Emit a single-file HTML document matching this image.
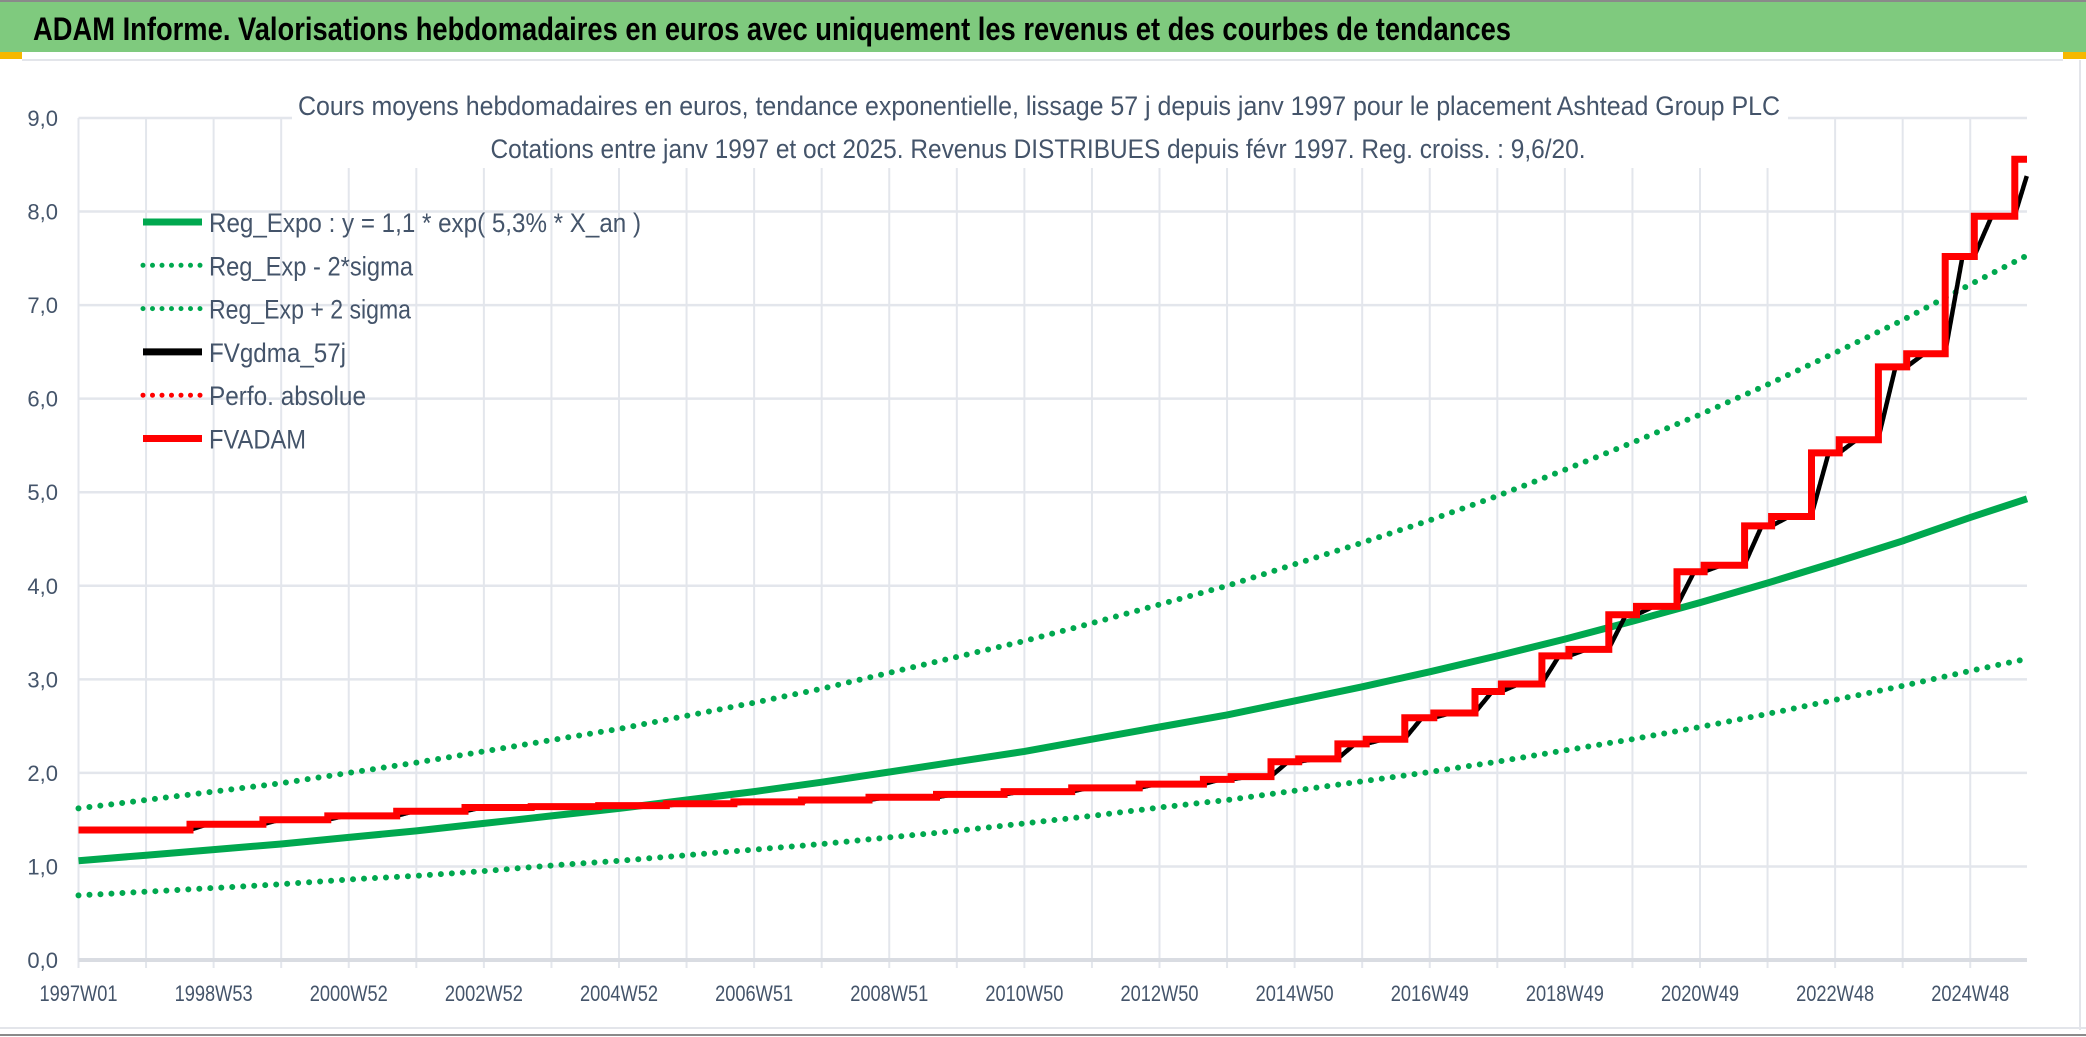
<!DOCTYPE html>
<html>
<head>
<meta charset="utf-8">
<style>
  html,body{margin:0;padding:0;background:#fff;}
  body{width:2086px;height:1037px;overflow:hidden;font-family:"Liberation Sans",sans-serif;}
  svg{display:block;}
</style>
</head>
<body>
<svg id="chart" width="2086" height="1037" viewBox="0 0 2086 1037" xmlns="http://www.w3.org/2000/svg">
  <rect x="0" y="0" width="2086" height="1037" fill="#ffffff"/>
  <rect x="0" y="0" width="2086" height="52" fill="#7fca7e"/>
  <line x1="0" y1="1" x2="2086" y2="1" stroke="#8a8a8a" stroke-width="2"/>
  <text x="33" y="40" font-size="32" font-weight="bold" fill="#000" textLength="1478" lengthAdjust="spacingAndGlyphs">ADAM Informe. Valorisations hebdomadaires en euros avec uniquement les revenus et des courbes de tendances</text>
  <rect x="0" y="52" width="22" height="7" fill="#f5b800"/>
  <rect x="2063" y="52" width="23" height="7" fill="#f5b800"/>
  <line x1="22" y1="60" x2="2063" y2="60" stroke="#e3e5ea" stroke-width="2"/>
  <line x1="2080" y1="60" x2="2080" y2="1030" stroke="#e3e5ea" stroke-width="2"/>
  <line x1="0" y1="1028" x2="2086" y2="1028" stroke="#e3e5ea" stroke-width="2"/>
  <line x1="0" y1="1035" x2="2086" y2="1035" stroke="#8a8a8a" stroke-width="2"/>
  <g id="grid"></g>
  <g id="axes"></g>
  <rect x="292" y="88" width="1496" height="80" fill="#ffffff"/>
  <text x="1039" y="115" font-size="27" fill="#44546a" text-anchor="middle" textLength="1482" lengthAdjust="spacingAndGlyphs">Cours moyens hebdomadaires en euros, tendance exponentielle, lissage 57 j depuis janv 1997 pour le placement Ashtead Group PLC</text>
  <text x="1038" y="158" font-size="27" fill="#44546a" text-anchor="middle" textLength="1095" lengthAdjust="spacingAndGlyphs">Cotations entre janv 1997 et oct 2025. Revenus DISTRIBUES depuis févr 1997. Reg. croiss. : 9,6/20.</text>
  <g id="series"></g>
  <g id="legend"></g>
</svg>
<script>
// ---- data (years since 1997W01) ----
const regYears = [0,1,2,3,4,5,6,7,8,9,10,11,12,13,14,15,16,17,18,19,20,21,22,23,24,25,26,27,28,28.84];
const regValues = [1.06,1.12,1.18,1.24,1.31,1.38,1.46,1.54,1.62,1.71,1.80,1.90,2.01,2.12,2.23,2.36,2.49,2.62,2.77,2.92,3.08,3.25,3.43,3.62,3.82,4.03,4.25,4.48,4.73,4.93];
const lowerValues = [0.69,0.73,0.77,0.81,0.86,0.90,0.95,1.01,1.06,1.12,1.18,1.24,1.31,1.38,1.46,1.54,1.63,1.71,1.81,1.91,2.01,2.12,2.24,2.36,2.49,2.63,2.78,2.93,3.09,3.22];
const upperValues = [1.62,1.71,1.80,1.89,2.00,2.11,2.23,2.35,2.47,2.61,2.75,2.90,3.07,3.24,3.41,3.60,3.80,4.00,4.23,4.46,4.70,4.96,5.24,5.53,5.83,6.15,6.49,6.84,7.22,7.53];
const adamStart = 1.39;
const stepYears = [1.65,2.73,3.69,4.71,5.72,6.7,7.7,8.7,9.7,10.7,11.7,12.7,13.7,14.7,15.7,16.65,17.06,17.65,18.06,18.64,19.06,19.63,20.06,20.67,21.06,21.66,22.06,22.65,23.06,23.66,24.06,24.66,25.06,25.65,26.06,26.64,27.06,27.63,28.06,28.66];
const stepValues = [1.45,1.50,1.54,1.59,1.63,1.64,1.65,1.67,1.69,1.71,1.74,1.77,1.80,1.84,1.88,1.93,1.96,2.12,2.15,2.31,2.36,2.59,2.64,2.87,2.95,3.25,3.32,3.69,3.78,4.15,4.22,4.64,4.74,5.42,5.56,6.34,6.48,7.52,7.95,8.56];
const endYear = 28.84;
const yTicks = [0,1,2,3,4,5,6,7,8,9];
const yTickLabels = ["0,0","1,0","2,0","3,0","4,0","5,0","6,0","7,0","8,0","9,0"];
const xLabelYears = [0,2,4,6,8,10,12,14,16,18,20,22,24,26,28];
const xLabels = ["1997W01","1998W53","2000W52","2002W52","2004W52","2006W51","2008W51","2010W50","2012W50","2014W50","2016W49","2018W49","2020W49","2022W48","2024W48"];

// ---- scales ----
const X0 = 78.5, X1 = 2027, Y0 = 960, Y9 = 118;
function sx(t){ return X0 + t/endYear*(X1-X0); }
function sy(v){ return Y0 - v/9*(Y0-Y9); }
const NS = "http://www.w3.org/2000/svg";
function mk(tag, attrs, parent){ const e=document.createElementNS(NS,tag); for(const k in attrs) e.setAttribute(k,attrs[k]); parent.appendChild(e); return e; }

const grid = document.getElementById('grid');
for (let k=0;k<=28;k++){
  const l = mk('line',{x1:sx(k),y1:Y9,x2:sx(k),y2:Y0+8,stroke:'#e3e6ec','stroke-width':2},grid);
  
  
}
yTicks.forEach((v,i)=>{
  const l = mk('line',{x1:X0,y1:sy(v),x2:X1,y2:sy(v),stroke: v===0?'#d9dce2':'#e3e6ec','stroke-width': v===0?4:2.5},grid);
  
  
});
const axes = document.getElementById('axes');
yTicks.forEach((v,i)=>{
  const t = mk('text',{x:58,y:sy(v)+8,'font-size':22,fill:'#44546a','text-anchor':'end'},axes);
  t.textContent = yTickLabels[i];
  
  
});
xLabelYears.forEach((yr,i)=>{
  const t = mk('text',{x:sx(yr),y:1001,'font-size':22,fill:'#44546a','text-anchor':'middle',textLength:78,lengthAdjust:'spacingAndGlyphs'},axes);
  t.textContent = xLabels[i];
  
  
});

// ---- series ----
const series = document.getElementById('series');
function poly(xs, ys){ return xs.map((t,i)=>(i?'L':'M')+sx(t).toFixed(1)+' '+sy(ys[i]).toFixed(1)).join(' '); }
const pLow = mk('path',{d:poly(regYears,lowerValues),fill:'none',stroke:'#00a84f','stroke-width':6,'stroke-linecap':'round','stroke-dasharray':'0 11'},series);


const pUp = mk('path',{d:poly(regYears,upperValues),fill:'none',stroke:'#00a84f','stroke-width':6,'stroke-linecap':'round','stroke-dasharray':'0 11'},series);


const pReg = mk('path',{d:poly(regYears,regValues),fill:'none',stroke:'#00a84f','stroke-width':7,'stroke-linejoin':'round'},series);



function stepVal(t){ let v=adamStart; for(let i=0;i<stepYears.length;i++){ if(t>=stepYears[i]) v=stepValues[i]; } return v; }
// smoothed (trailing moving average) curve
const win = 0.25, dt = 1/104;
const bx=[], by=[];
for(let t=0;t<=endYear+1e-9;t+=dt){
  let s=0,n=0;
  for(let u=t-win;u<=t+1e-9;u+=dt){ s+=stepVal(Math.max(0,u)); n++; }
  bx.push(t); by.push(s/n);
}
let dRed = 'M'+sx(0)+' '+sy(adamStart);
let cur = adamStart;
stepYears.forEach((t,i)=>{ dRed += ' L'+sx(t).toFixed(1)+' '+sy(cur).toFixed(1)+' L'+sx(t).toFixed(1)+' '+sy(stepValues[i]).toFixed(1); cur = stepValues[i]; });
dRed += ' L'+sx(endYear).toFixed(1)+' '+sy(cur).toFixed(1);
const pBlack = mk('path',{d:poly(bx,by),fill:'none',stroke:'#000','stroke-width':4.5,'stroke-linejoin':'round'},series);


const pRed = mk('path',{d:dRed,fill:'none',stroke:'#ff0000','stroke-width':7,'stroke-linejoin':'miter'},series);



// ---- legend ----
const legendLabels = ["Reg_Expo : y = 1,1 * exp( 5,3% *  X_an )","Reg_Exp - 2*sigma","Reg_Exp + 2 sigma","FVgdma_57j","Perfo. absolue","FVADAM"];
const legendNames = ["legend-reg-expo","legend-reg-minus","legend-reg-plus","legend-fvgdma","legend-perfo","legend-fvadam"];
const legendColors = ['#00a84f','#00a84f','#00a84f','#000','#ff0000','#ff0000'];
const legendDotted = [false,true,true,false,true,false];
const legendWidths = [432,204,202,137,157,97];
const legend = document.getElementById('legend');
legendLabels.forEach((lab,i)=>{
  const y = 222 + i*43.3;
  const g = mk('g',{},legend);
  
  
  const attrs = {x1:143,y1:y,x2:202,y2:y,stroke:legendColors[i],'stroke-width':legendDotted[i]?5:7,'stroke-linecap':legendDotted[i]?'round':'butt'};
  if(legendDotted[i]) attrs['stroke-dasharray']='0 9.5';
  const l = mk('line',attrs,g);
  
  
  const t = mk('text',{x:209,y:y+10,'font-size':27,fill:'#44546a',textLength:legendWidths[i],lengthAdjust:'spacingAndGlyphs'},g);
  t.textContent = lab;
  
  
});
</script>
</body>
</html>
